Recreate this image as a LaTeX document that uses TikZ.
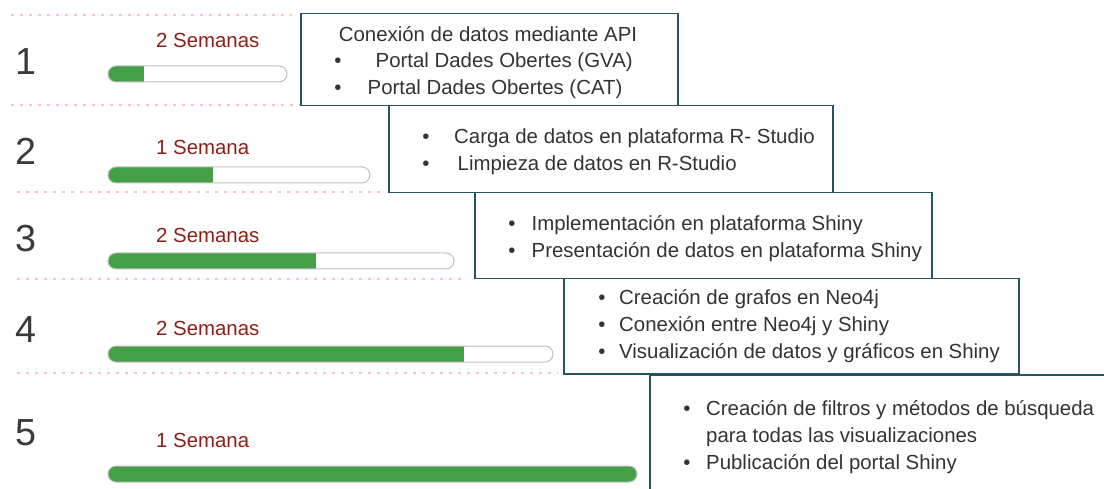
\documentclass[tikz,border=0pt]{standalone}
\usepackage{fontspec}
\setmainfont{Liberation Sans}
\definecolor{boxc}{RGB}{40,84,98}
\definecolor{txt}{RGB}{51,51,51}
\definecolor{numc}{RGB}{58,58,58}
\definecolor{lab}{RGB}{140,32,22}
\definecolor{barg}{RGB}{67,160,71}
\definecolor{barb}{RGB}{190,190,190}
\definecolor{dotc}{RGB}{248,198,198}
\tikzset{
  stepbox/.style={draw=boxc, line width=1.5pt, fill=white, inner sep=0pt, anchor=north west},
  itemtxt/.style={anchor=base west, inner sep=0pt, text=txt, font=\fontsize{20.4}{27}\selectfont},
  titletxt/.style={anchor=base, inner sep=0pt, text=txt, font=\fontsize{20.4}{27}\selectfont},
  bul/.style={anchor=base, inner sep=0pt, text=txt, font=\fontsize{20.4}{27}\selectfont},
  numlbl/.style={anchor=base west, inner sep=0pt, text=numc, font=\fontsize{37.7}{40}\selectfont},
  weeklbl/.style={anchor=base west, inner sep=0pt, text=lab, font=\fontsize{20.4}{27}\selectfont},
  sepline/.style={draw=dotc, line width=2.5pt, dash pattern=on 2.5pt off 6.5pt},
  barframe/.style={draw=barb, line width=1pt, rounded corners=8pt},
}
\newcommand\progbar[3]{%
  \begin{scope}
    \clip[rounded corners=8pt] (108,#1) rectangle (#2,#1+16);
    \fill[white] (108,#1) rectangle (#2,#1+16);
    \fill[barg] (108,#1) rectangle (#3,#1+16);
  \end{scope}
  \draw[barframe] (108,#1) rectangle (#2,#1+16);
}
\begin{document}
\begin{tikzpicture}[x=1pt,y=-1pt]
\useasboundingbox (0,0) rectangle (1104,489);
\begin{scope}
\clip (0,0) rectangle (1104,489);
% separators
\draw[sepline] (11,15) -- (292,15);
\draw[sepline] (11,105) -- (384,105);
\draw[sepline] (17,192) -- (384,192);
\draw[sepline] (17,279) -- (462,279);
\draw[sepline] (17,373) -- (558,373);
% numbers
\node[numlbl] (n1) at (15,75) {1};
\node[numlbl] (n2) at (15,165) {2};
\node[numlbl] (n3) at (15,252) {3};
\node[numlbl] (n4) at (15,342) {4};
\node[numlbl] (n5) at (15,445) {5};
% week labels
\node[weeklbl] (w1) at (156,48) {2 Semanas};
\node[weeklbl] (w2) at (156,155) {1 Semana};
\node[weeklbl] (w3) at (156,243) {2 Semanas};
\node[weeklbl] (w4) at (156,335) {2 Semanas};
\node[weeklbl] (w5) at (156,447) {1 Semana};
% bars
\progbar{66}{287}{144}
\progbar{167}{370}{213}
\progbar{253}{454}{316}
\progbar{346}{553}{464}
\progbar{466}{637}{637}
% boxes
\node[stepbox, minimum width=480pt, minimum height=140pt] (b5) at (649,374) {};
\node[stepbox, minimum width=455pt, minimum height=95pt] (b4) at (563,278) {};
\node[stepbox, minimum width=457pt, minimum height=86pt] (b3) at (474,192) {};
\node[stepbox, minimum width=444pt, minimum height=87pt] (b2) at (388,105) {};
\node[stepbox, minimum width=377pt, minimum height=92pt] (b1) at (300,13) {};
% box 1
\node[titletxt] (t1) at (488,42) {Conexión de datos mediante API};
\node[bul] (p11) at (338,68) {•};
\node[itemtxt] (t11) at (375.5,68) {Portal Dades Obertes (GVA)};
\node[bul] (p12) at (338,95) {•};
\node[itemtxt] (t12) at (367.5,95) {Portal Dades Obertes (CAT)};
% box 2
\node[bul] (p21) at (426,144) {•};
\node[itemtxt] (t21) at (454,144) {Carga de datos en plataforma R- Studio};
\node[bul] (p22) at (426,171) {•};
\node[itemtxt] (t22) at (457.5,171) {Limpieza de datos en R-Studio};
% box 3
\node[bul] (p31) at (512,230.5) {•};
\node[itemtxt] (t31) at (531.5,230.5) {Implementación en plataforma Shiny};
\node[bul] (p32) at (512,258) {•};
\node[itemtxt] (t32) at (531.5,258) {Presentación de datos en plataforma Shiny};
% box 4
\node[bul] (p41) at (602,305) {•};
\node[itemtxt] (t41) at (619,305) {Creación de grafos en Neo4j};
\node[bul] (p42) at (602,332) {•};
\node[itemtxt] (t42) at (619,332) {Conexión entre Neo4j y Shiny};
\node[bul] (p43) at (602,359) {•};
\node[itemtxt] (t43) at (619,359) {Visualización de datos y gráficos en Shiny};
% box 5
\node[bul] (p51) at (687,415) {•};
\node[itemtxt] (t51) at (706,415) {Creación de filtros y métodos de búsqueda};
\node[itemtxt] (t52) at (706,442) {para todas las visualizaciones};
\node[bul] (p53) at (687,469) {•};
\node[itemtxt] (t53) at (706,469) {Publicación del portal Shiny};
\end{scope}
\end{tikzpicture}
\end{document}
